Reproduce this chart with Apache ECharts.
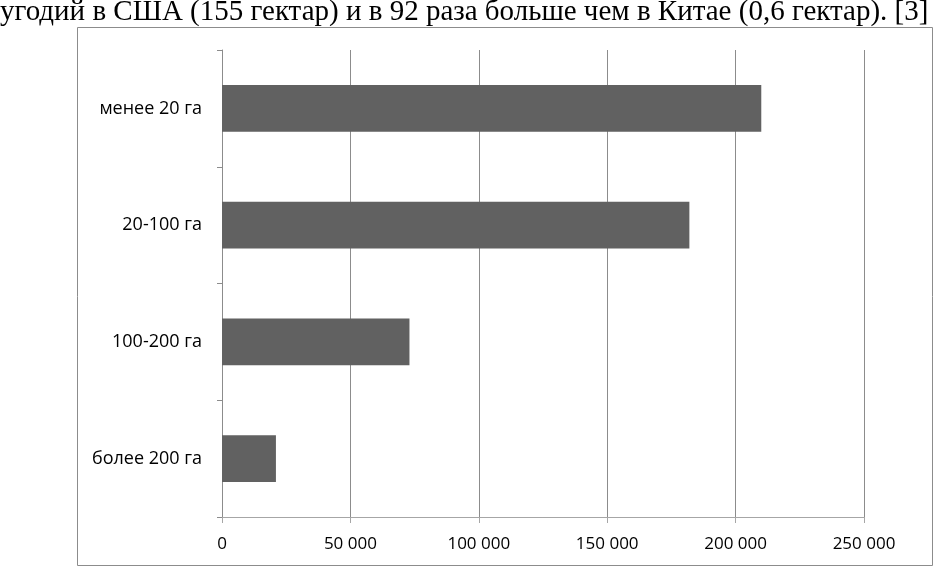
<!DOCTYPE html>
<html><head><meta charset="utf-8">
<script src="https://cdn.jsdelivr.net/npm/echarts@6/dist/echarts.min.js"></script>
<style>html,body{margin:0;padding:0;background:#fff}#c{width:934px;height:568px}</style>
</head><body><div id="c"></div>
<script>
const categories = ['менее 20 га', '20-100 га', '100-200 га', 'более 200 га'];
const values = [210000, 182000, 73000, 21000];
const xTicks = [0, 50000, 100000, 150000, 200000, 250000];
const headerText = 'угодий в США (155 гектар) и в 92 раза больше чем в Китае (0,6 гектар). [3]';

const chart = echarts.init(document.getElementById('c'), null, {renderer: 'canvas'});
const fmt = v => v === 0 ? '0' : String(v).replace(/\B(?=(\d{3})+(?!\d))/g, ' ');
chart.setOption({
  animation: false,
  backgroundColor: '#fff',
  graphic: [
    {type: 'rect', shape: {x: 77.5, y: 27.5, width: 855, height: 538}, style: {fill: 'none', stroke: '#8c8c8c', lineWidth: 1}, z: 0},
    {type: 'text', left: 0, top: -2, style: {text: headerText, font: '29px "Liberation Serif"', fill: '#000'}}
  ],
  grid: {left: 222, right: 70, top: 50, bottom: 51},
  xAxis: {
    type: 'value', min: xTicks[0], max: xTicks[xTicks.length - 1], interval: 50000,
    axisLine: {show: true, lineStyle: {color: '#a6a6a6', width: 1}},
    axisTick: {show: true, length: 6, lineStyle: {color: '#a6a6a6'}},
    splitLine: {show: true, lineStyle: {color: '#8c8c8c', width: 1}},
    axisLabel: {formatter: fmt, color: '#000', fontFamily: 'Open Sans', fontSize: 17, margin: 19}
  },
  yAxis: {
    type: 'category', data: categories, inverse: true,
    axisLine: {show: true, lineStyle: {color: '#8c8c8c', width: 1}},
    axisTick: {show: true, length: 5, lineStyle: {color: '#8c8c8c'}},
    axisLabel: {color: '#000', fontFamily: 'Open Sans', fontSize: 18, margin: 20}
  },
  series: [{
    type: 'bar', data: values, barCategoryGap: '60%',
    itemStyle: {color: '#616161'}
  }]
});
</script></body></html>
